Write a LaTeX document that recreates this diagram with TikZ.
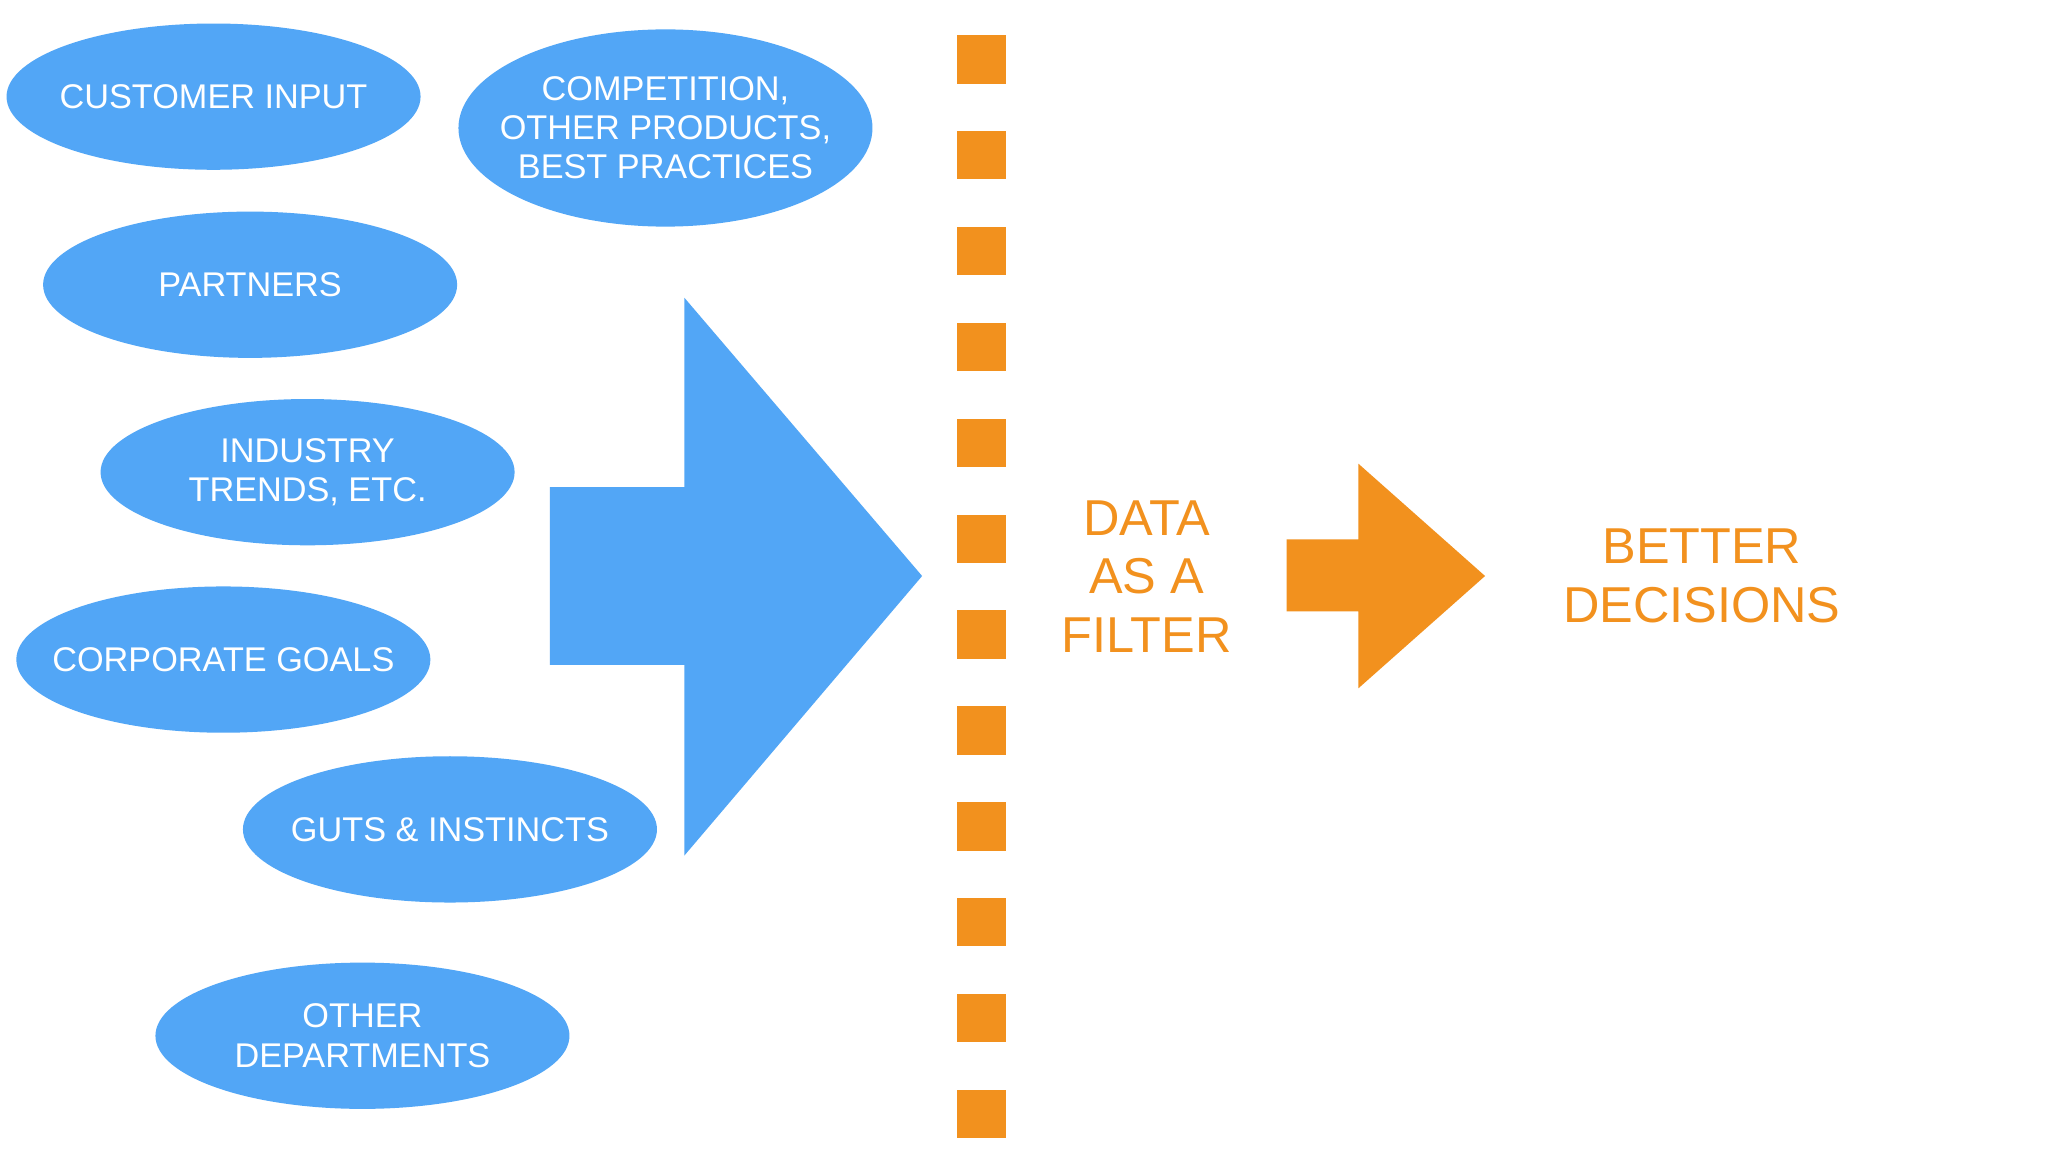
\documentclass[tikz,border=0pt]{standalone}
\usepackage{fontspec}
\setmainfont{Liberation Sans}
\usetikzlibrary{shapes.geometric}
\definecolor{skyblue}{RGB}{82,166,246}
\definecolor{amber}{RGB}{242,145,30}
\tikzset{
  blob/.style={ellipse, fill=skyblue, draw=none, inner sep=0pt, minimum width=4.1403cm, minimum height=1.4628cm},
  tallblob/.style={blob, minimum height=1.9722cm},
  etxt/.style={text=white, align=center, inner sep=0pt, font=\fontsize{9.75pt}{11.15pt}\selectfont},
  otxt/.style={text=amber, align=center, inner sep=0pt, font=\fontsize{14.35pt}{16.72pt}\selectfont},
  blueshape/.style={fill=skyblue, draw=none},
  orangeshape/.style={fill=amber, draw=none}
}
\begin{document}
\begin{tikzpicture}[x=0.013061cm, y=-0.013061cm]
  \fill[white] (0,0) rectangle (1568,882);
  \useasboundingbox (0,0) rectangle (1568,882);

  % input ellipses
  \node[blob] (ci) at (163.5,74) {};
  \node[etxt] (tci) at (ci.center) {CUSTOMER INPUT};
  \node[tallblob] (co) at (509.5,98) {};
  \node[etxt] (tco) at (co.center) {COMPETITION,\\OTHER PRODUCTS,\\BEST PRACTICES};
  \node[blob] (pa) at (191.5,218) {};
  \node[etxt] (tpa) at (pa.center) {PARTNERS};
  \node[blob] (in) at (235.5,361.5) {};
  \node[etxt] (tin) at (in.center) {INDUSTRY\\TRENDS, ETC.};
  \node[blob] (cg) at (171,505) {};
  \node[etxt] (tcg) at (cg.center) {CORPORATE GOALS};
  \node[blob] (gu) at (344.5,635) {};
  \node[etxt] (tgu) at (gu.center) {GUTS \& INSTINCTS};
  \node[blob] (od) at (277.5,793) {};
  \node[etxt] (tod) at (od.center) {OTHER\\DEPARTMENTS};

  % big blue arrow
  \fill[blueshape] (421,373) -- (524,373) -- (524,228) -- (706,441) -- (524,655) -- (524,509) -- (421,509) -- cycle;

  % orange dashed filter line
  \foreach \i in {0,...,11} {
    \fill[orangeshape] (733,27+73.4*\i) rectangle ++(37,37);
  }

  % filter text
  \node[otxt] (filter) at (878,441.5) {DATA\\AS A\\FILTER};

  % orange arrow
  \fill[orangeshape] (985,413) -- (1040,413) -- (1040,355) -- (1137,441) -- (1040,527) -- (1040,468) -- (985,468) -- cycle;

  % result text
  \node[otxt] (better) at (1303,441) {BETTER\\DECISIONS};
\end{tikzpicture}
\end{document}
